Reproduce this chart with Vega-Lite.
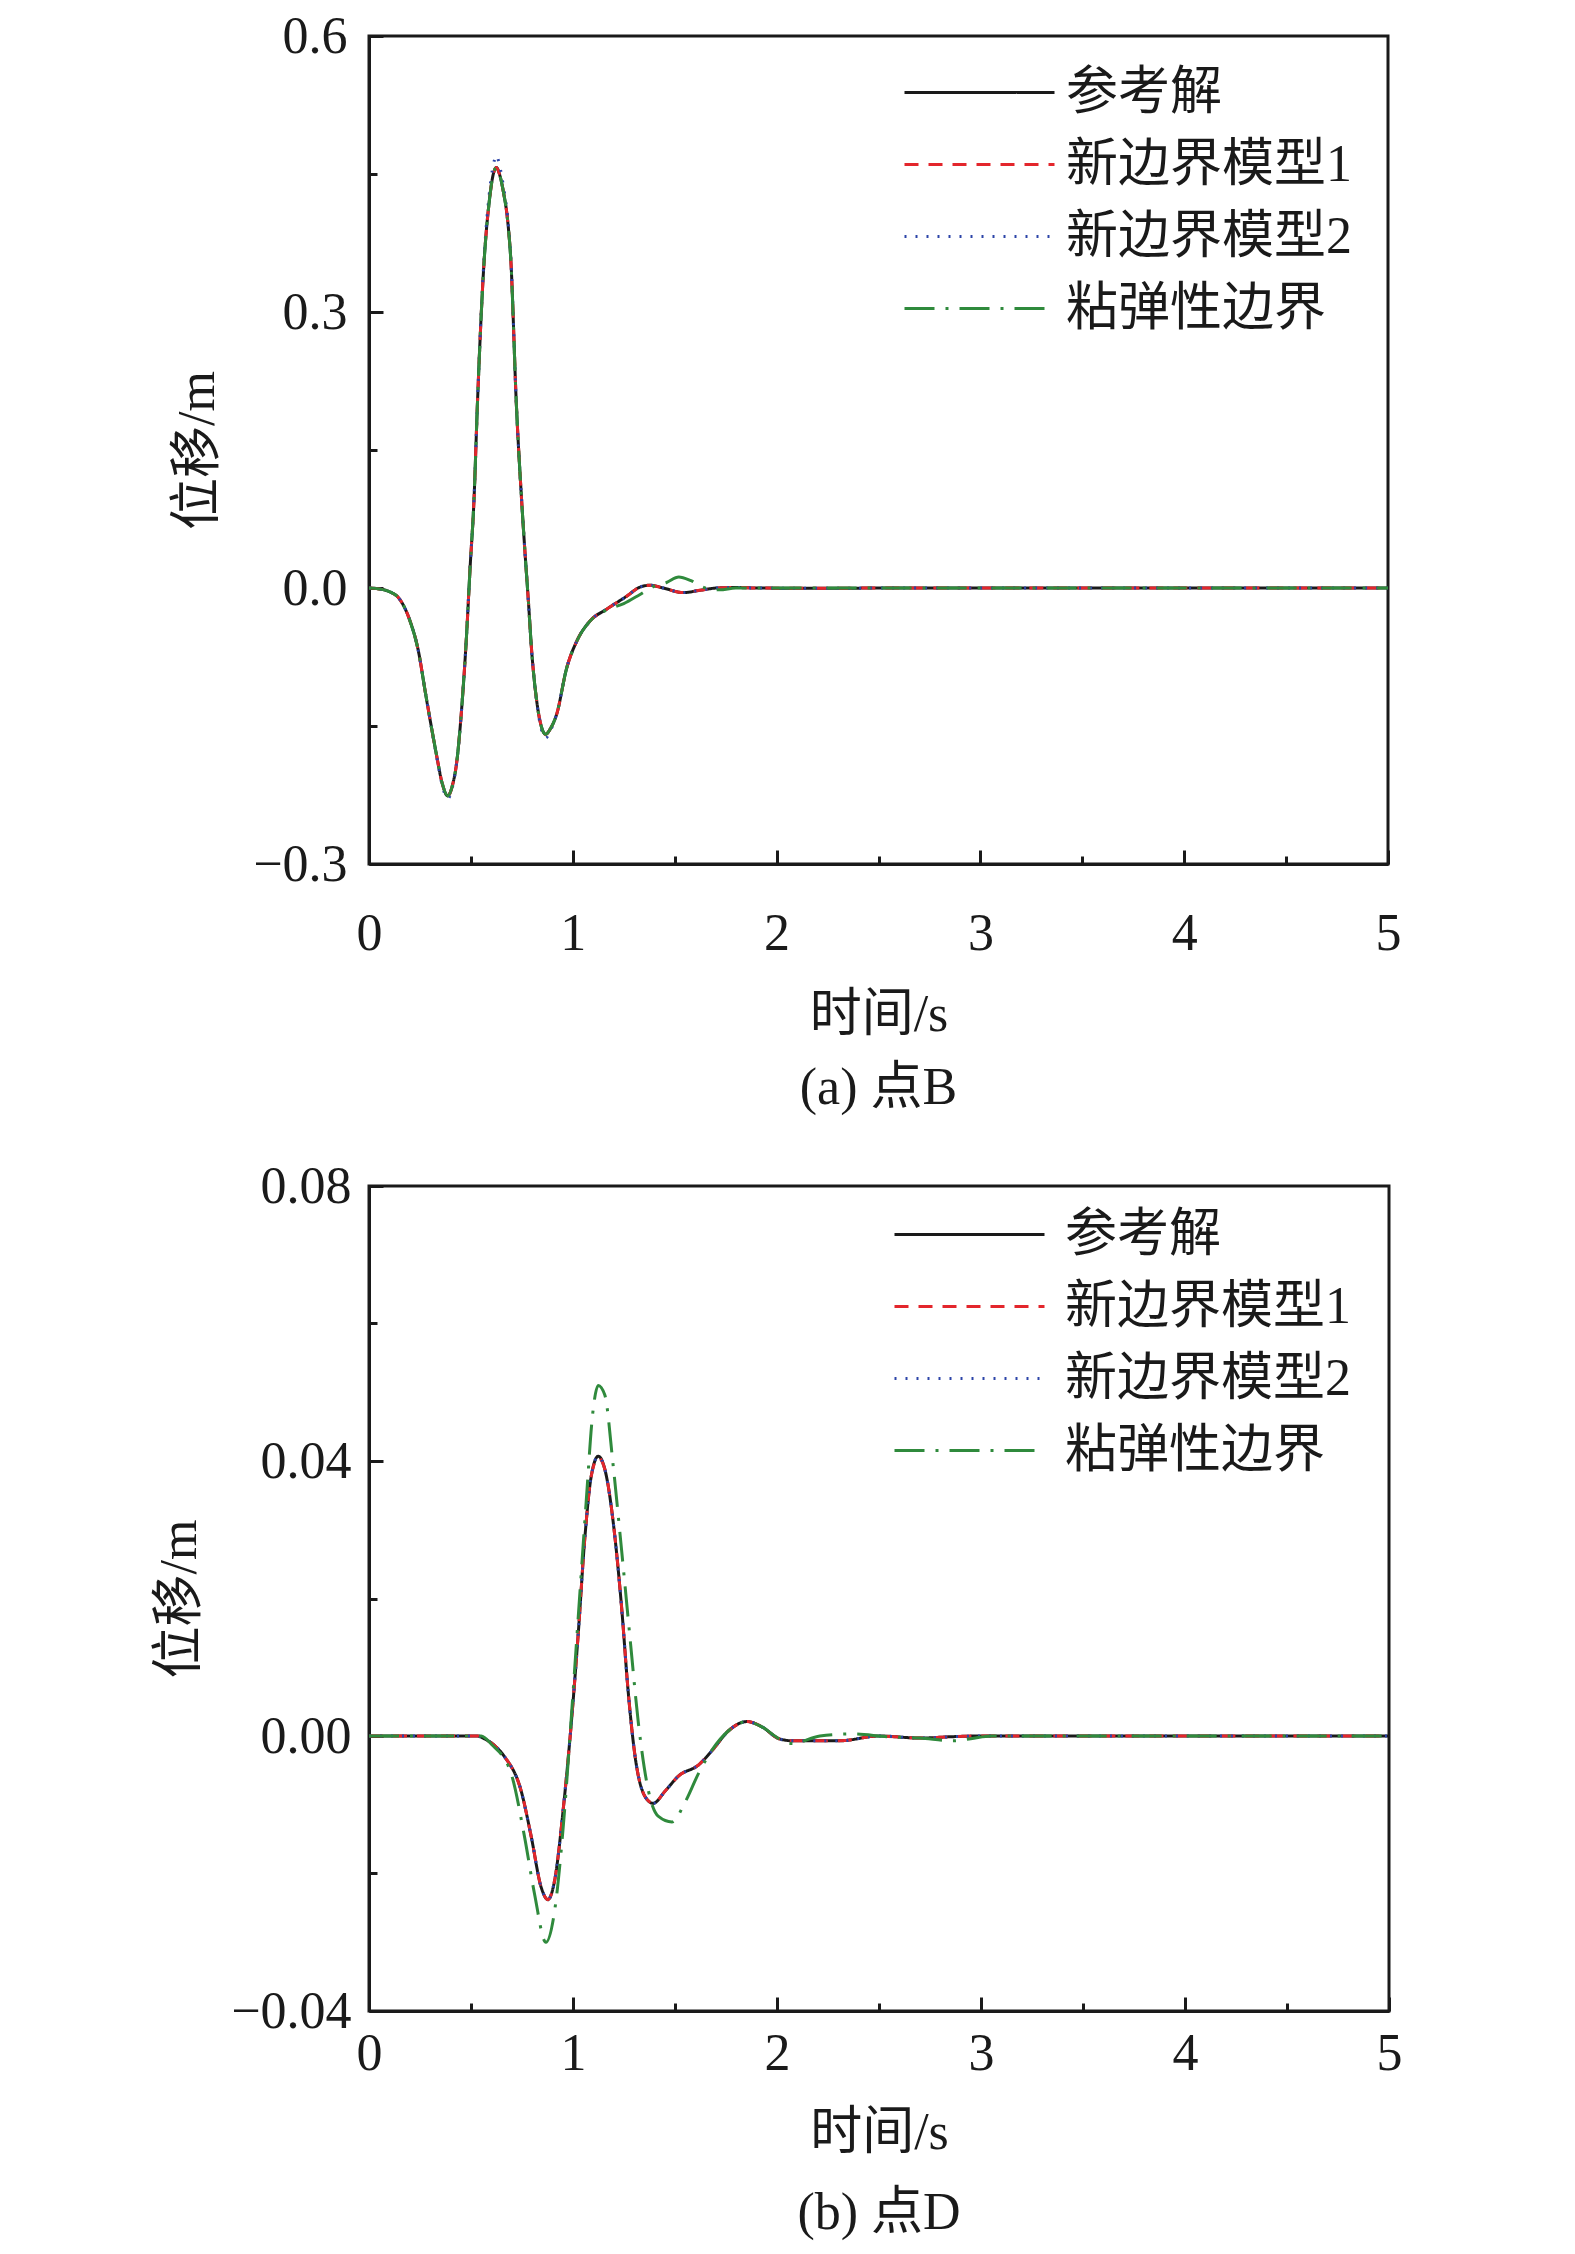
{
  "$schema": "https://vega.github.io/schema/vega-lite/v6.json",
  "background": "white",
  "padding": {"left": 152, "top": 8, "right": 10, "bottom": 5},
  "spacing": 42,
  "config": {
    "font": "Liberation Serif, Noto Sans CJK SC",
    "view": {"stroke": "#1a1a1a", "strokeWidth": 3},
    "axis": {
      "grid": false,
      "domainColor": "#1a1a1a",
      "domainWidth": 3,
      "tickColor": "#1a1a1a",
      "tickWidth": 3,
      "labelFont": "Liberation Serif, Noto Sans CJK SC",
      "labelFontSize": 52,
      "labelColor": "#1a1a1a",
      "titleFont": "Liberation Serif, Noto Sans CJK SC",
      "titleFontSize": 52,
      "titleFontWeight": "normal",
      "titleColor": "#1a1a1a",
      "labelFlush": false,
      "labelOverlap": false
    },
    "title": {"font": "Liberation Serif, Noto Sans CJK SC", "fontSize": 52, "fontWeight": "normal", "color": "#1a1a1a"},
    "legend": {"labelFont": "Liberation Serif, Noto Sans CJK SC", "labelFontSize": 52, "labelColor": "#1a1a1a", "labelLimit": 0}
  },
  "datasets": {
    "a": [
      {"s":"参考解","t":0,"v":0},{"s":"参考解","t":0.05,"v":-0.001},{"s":"参考解","t":0.1,"v":-0.004},{"s":"参考解","t":0.15,"v":-0.012},{"s":"参考解","t":0.2,"v":-0.035},{"s":"参考解","t":0.24,"v":-0.066},{"s":"参考解","t":0.28,"v":-0.118},{"s":"参考解","t":0.33,"v":-0.18},{"s":"参考解","t":0.36,"v":-0.213},{"s":"参考解","t":0.386,"v":-0.226},{"s":"参考解","t":0.41,"v":-0.214},{"s":"参考解","t":0.43,"v":-0.19},{"s":"参考解","t":0.455,"v":-0.13},{"s":"参考解","t":0.479,"v":-0.05},{"s":"参考解","t":0.496,"v":0.022},{"s":"参考解","t":0.515,"v":0.095},{"s":"参考解","t":0.532,"v":0.2},{"s":"参考解","t":0.565,"v":0.356},{"s":"参考解","t":0.59,"v":0.42},{"s":"参考解","t":0.61,"v":0.45},{"s":"参考解","t":0.625,"v":0.457},{"s":"参考解","t":0.64,"v":0.45},{"s":"参考解","t":0.66,"v":0.43},{"s":"参考解","t":0.68,"v":0.4},{"s":"参考解","t":0.696,"v":0.356},{"s":"参考解","t":0.723,"v":0.2},{"s":"参考解","t":0.749,"v":0.095},{"s":"参考解","t":0.765,"v":0.04},{"s":"参考解","t":0.782,"v":-0.014},{"s":"参考解","t":0.798,"v":-0.068},{"s":"参考解","t":0.823,"v":-0.123},{"s":"参考解","t":0.845,"v":-0.15},{"s":"参考解","t":0.867,"v":-0.159},{"s":"参考解","t":0.89,"v":-0.153},{"s":"参考解","t":0.921,"v":-0.137},{"s":"参考解","t":0.97,"v":-0.087},{"s":"参考解","t":1.019,"v":-0.058},{"s":"参考解","t":1.084,"v":-0.036},{"s":"参考解","t":1.166,"v":-0.023},{"s":"参考解","t":1.264,"v":-0.009},{"s":"参考解","t":1.33,"v":0.001},{"s":"参考解","t":1.379,"v":0.003},{"s":"参考解","t":1.444,"v":0},{"s":"参考解","t":1.542,"v":-0.005},{"s":"参考解","t":1.624,"v":-0.0025},{"s":"参考解","t":1.706,"v":0},{"s":"参考解","t":1.8,"v":0.0005},{"s":"参考解","t":1.9,"v":0},{"s":"参考解","t":2.2,"v":-0.0003},{"s":"参考解","t":2.6,"v":0},{"s":"参考解","t":3,"v":0},{"s":"参考解","t":4,"v":0},{"s":"参考解","t":5,"v":0},

      {"s":"新边界模型1","t":0,"v":0},{"s":"新边界模型1","t":0.05,"v":-0.001},{"s":"新边界模型1","t":0.1,"v":-0.004},{"s":"新边界模型1","t":0.15,"v":-0.012},{"s":"新边界模型1","t":0.2,"v":-0.035},{"s":"新边界模型1","t":0.24,"v":-0.066},{"s":"新边界模型1","t":0.28,"v":-0.118},{"s":"新边界模型1","t":0.33,"v":-0.18},{"s":"新边界模型1","t":0.36,"v":-0.213},{"s":"新边界模型1","t":0.386,"v":-0.226},{"s":"新边界模型1","t":0.41,"v":-0.214},{"s":"新边界模型1","t":0.43,"v":-0.19},{"s":"新边界模型1","t":0.455,"v":-0.13},{"s":"新边界模型1","t":0.479,"v":-0.05},{"s":"新边界模型1","t":0.496,"v":0.022},{"s":"新边界模型1","t":0.515,"v":0.095},{"s":"新边界模型1","t":0.532,"v":0.2},{"s":"新边界模型1","t":0.565,"v":0.356},{"s":"新边界模型1","t":0.59,"v":0.42},{"s":"新边界模型1","t":0.61,"v":0.45},{"s":"新边界模型1","t":0.625,"v":0.457},{"s":"新边界模型1","t":0.64,"v":0.45},{"s":"新边界模型1","t":0.66,"v":0.43},{"s":"新边界模型1","t":0.68,"v":0.4},{"s":"新边界模型1","t":0.696,"v":0.356},{"s":"新边界模型1","t":0.723,"v":0.2},{"s":"新边界模型1","t":0.749,"v":0.095},{"s":"新边界模型1","t":0.765,"v":0.04},{"s":"新边界模型1","t":0.782,"v":-0.014},{"s":"新边界模型1","t":0.798,"v":-0.068},{"s":"新边界模型1","t":0.823,"v":-0.123},{"s":"新边界模型1","t":0.845,"v":-0.15},{"s":"新边界模型1","t":0.867,"v":-0.159},{"s":"新边界模型1","t":0.89,"v":-0.153},{"s":"新边界模型1","t":0.921,"v":-0.137},{"s":"新边界模型1","t":0.97,"v":-0.087},{"s":"新边界模型1","t":1.019,"v":-0.058},{"s":"新边界模型1","t":1.084,"v":-0.036},{"s":"新边界模型1","t":1.166,"v":-0.023},{"s":"新边界模型1","t":1.264,"v":-0.009},{"s":"新边界模型1","t":1.33,"v":0.001},{"s":"新边界模型1","t":1.379,"v":0.003},{"s":"新边界模型1","t":1.444,"v":0},{"s":"新边界模型1","t":1.542,"v":-0.005},{"s":"新边界模型1","t":1.624,"v":-0.0025},{"s":"新边界模型1","t":1.706,"v":0},{"s":"新边界模型1","t":1.8,"v":0.0005},{"s":"新边界模型1","t":1.9,"v":0},{"s":"新边界模型1","t":2.2,"v":-0.0003},{"s":"新边界模型1","t":2.6,"v":0},{"s":"新边界模型1","t":3,"v":0},{"s":"新边界模型1","t":4,"v":0},{"s":"新边界模型1","t":5,"v":0},

      {"s":"新边界模型2","t":0,"v":0},{"s":"新边界模型2","t":0.05,"v":-0.001},{"s":"新边界模型2","t":0.1,"v":-0.004},{"s":"新边界模型2","t":0.15,"v":-0.012},{"s":"新边界模型2","t":0.2,"v":-0.035},{"s":"新边界模型2","t":0.24,"v":-0.066},{"s":"新边界模型2","t":0.28,"v":-0.118},{"s":"新边界模型2","t":0.33,"v":-0.181},{"s":"新边界模型2","t":0.36,"v":-0.215},{"s":"新边界模型2","t":0.386,"v":-0.229},{"s":"新边界模型2","t":0.41,"v":-0.216},{"s":"新边界模型2","t":0.43,"v":-0.19},{"s":"新边界模型2","t":0.455,"v":-0.13},{"s":"新边界模型2","t":0.479,"v":-0.05},{"s":"新边界模型2","t":0.496,"v":0.022},{"s":"新边界模型2","t":0.515,"v":0.095},{"s":"新边界模型2","t":0.532,"v":0.2},{"s":"新边界模型2","t":0.565,"v":0.36},{"s":"新边界模型2","t":0.59,"v":0.428},{"s":"新边界模型2","t":0.61,"v":0.46},{"s":"新边界模型2","t":0.625,"v":0.47},{"s":"新边界模型2","t":0.64,"v":0.46},{"s":"新边界模型2","t":0.66,"v":0.436},{"s":"新边界模型2","t":0.68,"v":0.404},{"s":"新边界模型2","t":0.696,"v":0.358},{"s":"新边界模型2","t":0.723,"v":0.2},{"s":"新边界模型2","t":0.749,"v":0.095},{"s":"新边界模型2","t":0.765,"v":0.04},{"s":"新边界模型2","t":0.782,"v":-0.014},{"s":"新边界模型2","t":0.798,"v":-0.068},{"s":"新边界模型2","t":0.823,"v":-0.124},{"s":"新边界模型2","t":0.845,"v":-0.153},{"s":"新边界模型2","t":0.867,"v":-0.163},{"s":"新边界模型2","t":0.89,"v":-0.155},{"s":"新边界模型2","t":0.921,"v":-0.137},{"s":"新边界模型2","t":0.97,"v":-0.087},{"s":"新边界模型2","t":1.019,"v":-0.058},{"s":"新边界模型2","t":1.084,"v":-0.036},{"s":"新边界模型2","t":1.166,"v":-0.023},{"s":"新边界模型2","t":1.264,"v":-0.009},{"s":"新边界模型2","t":1.33,"v":0.001},{"s":"新边界模型2","t":1.379,"v":0.003},{"s":"新边界模型2","t":1.444,"v":0},{"s":"新边界模型2","t":1.542,"v":-0.005},{"s":"新边界模型2","t":1.624,"v":-0.0025},{"s":"新边界模型2","t":1.706,"v":0},{"s":"新边界模型2","t":1.8,"v":0.0005},{"s":"新边界模型2","t":1.9,"v":0},{"s":"新边界模型2","t":2.2,"v":-0.0003},{"s":"新边界模型2","t":2.6,"v":0},{"s":"新边界模型2","t":3,"v":0},{"s":"新边界模型2","t":4,"v":0},{"s":"新边界模型2","t":5,"v":0},

      {"s":"粘弹性边界","t":0,"v":0},{"s":"粘弹性边界","t":0.05,"v":-0.001},{"s":"粘弹性边界","t":0.1,"v":-0.004},{"s":"粘弹性边界","t":0.15,"v":-0.012},{"s":"粘弹性边界","t":0.2,"v":-0.035},{"s":"粘弹性边界","t":0.24,"v":-0.066},{"s":"粘弹性边界","t":0.28,"v":-0.118},{"s":"粘弹性边界","t":0.33,"v":-0.18},{"s":"粘弹性边界","t":0.36,"v":-0.213},{"s":"粘弹性边界","t":0.386,"v":-0.226},{"s":"粘弹性边界","t":0.41,"v":-0.214},{"s":"粘弹性边界","t":0.43,"v":-0.19},{"s":"粘弹性边界","t":0.455,"v":-0.13},{"s":"粘弹性边界","t":0.479,"v":-0.05},{"s":"粘弹性边界","t":0.496,"v":0.022},{"s":"粘弹性边界","t":0.515,"v":0.095},{"s":"粘弹性边界","t":0.532,"v":0.2},{"s":"粘弹性边界","t":0.565,"v":0.356},{"s":"粘弹性边界","t":0.59,"v":0.42},{"s":"粘弹性边界","t":0.61,"v":0.45},{"s":"粘弹性边界","t":0.625,"v":0.457},{"s":"粘弹性边界","t":0.64,"v":0.45},{"s":"粘弹性边界","t":0.66,"v":0.43},{"s":"粘弹性边界","t":0.68,"v":0.4},{"s":"粘弹性边界","t":0.696,"v":0.356},{"s":"粘弹性边界","t":0.723,"v":0.2},{"s":"粘弹性边界","t":0.749,"v":0.095},{"s":"粘弹性边界","t":0.765,"v":0.04},{"s":"粘弹性边界","t":0.782,"v":-0.014},{"s":"粘弹性边界","t":0.798,"v":-0.068},{"s":"粘弹性边界","t":0.823,"v":-0.123},{"s":"粘弹性边界","t":0.845,"v":-0.15},{"s":"粘弹性边界","t":0.867,"v":-0.159},{"s":"粘弹性边界","t":0.89,"v":-0.153},{"s":"粘弹性边界","t":0.921,"v":-0.137},{"s":"粘弹性边界","t":0.97,"v":-0.087},{"s":"粘弹性边界","t":1.019,"v":-0.058},{"s":"粘弹性边界","t":1.084,"v":-0.036},{"s":"粘弹性边界","t":1.166,"v":-0.024},{"s":"粘弹性边界","t":1.25,"v":-0.017},{"s":"粘弹性边界","t":1.33,"v":-0.007},{"s":"粘弹性边界","t":1.4,"v":0.002},{"s":"粘弹性边界","t":1.46,"v":0.006},{"s":"粘弹性边界","t":1.52,"v":0.012},{"s":"粘弹性边界","t":1.58,"v":0.008},{"s":"粘弹性边界","t":1.65,"v":0},{"s":"粘弹性边界","t":1.72,"v":-0.002},{"s":"粘弹性边界","t":1.8,"v":0},{"s":"粘弹性边界","t":2.2,"v":0},{"s":"粘弹性边界","t":3,"v":0},{"s":"粘弹性边界","t":4,"v":0},{"s":"粘弹性边界","t":5,"v":0}
    ],
    "b": [
      {"s":"参考解","t":0,"v":0},{"s":"参考解","t":0.3,"v":0},{"s":"参考解","t":0.53,"v":0},{"s":"参考解","t":0.565,"v":-0.0004},{"s":"参考解","t":0.62,"v":-0.0015},{"s":"参考解","t":0.664,"v":-0.003},{"s":"参考解","t":0.746,"v":-0.008},{"s":"参考解","t":0.795,"v":-0.0146},{"s":"参考解","t":0.844,"v":-0.022},{"s":"参考解","t":0.877,"v":-0.0238},{"s":"参考解","t":0.91,"v":-0.021},{"s":"参考解","t":0.953,"v":-0.0104},{"s":"参考解","t":0.992,"v":0.002},{"s":"参考解","t":1.025,"v":0.0146},{"s":"参考解","t":1.058,"v":0.0288},{"s":"参考解","t":1.09,"v":0.0379},{"s":"参考解","t":1.124,"v":0.0407},{"s":"参考解","t":1.156,"v":0.0388},{"s":"参考解","t":1.206,"v":0.0288},{"s":"参考解","t":1.238,"v":0.0188},{"s":"参考解","t":1.271,"v":0.0063},{"s":"参考解","t":1.304,"v":-0.0029},{"s":"参考解","t":1.353,"v":-0.0088},{"s":"参考解","t":1.393,"v":-0.0098},{"s":"参考解","t":1.452,"v":-0.008},{"s":"参考解","t":1.518,"v":-0.0058},{"s":"参考解","t":1.616,"v":-0.0042},{"s":"参考解","t":1.682,"v":-0.0021},{"s":"参考解","t":1.764,"v":0.0008},{"s":"参考解","t":1.853,"v":0.0021},{"s":"参考解","t":1.928,"v":0.0013},{"s":"参考解","t":2.01,"v":-0.0004},{"s":"参考解","t":2.076,"v":-0.0007},{"s":"参考解","t":2.306,"v":-0.0007},{"s":"参考解","t":2.5,"v":0},{"s":"参考解","t":2.7,"v":-0.0003},{"s":"参考解","t":2.86,"v":-0.0001},{"s":"参考解","t":3,"v":0},{"s":"参考解","t":4,"v":0},{"s":"参考解","t":5,"v":0},

      {"s":"新边界模型1","t":0,"v":0},{"s":"新边界模型1","t":0.3,"v":0},{"s":"新边界模型1","t":0.53,"v":0},{"s":"新边界模型1","t":0.565,"v":-0.0004},{"s":"新边界模型1","t":0.62,"v":-0.0015},{"s":"新边界模型1","t":0.664,"v":-0.003},{"s":"新边界模型1","t":0.746,"v":-0.008},{"s":"新边界模型1","t":0.795,"v":-0.0146},{"s":"新边界模型1","t":0.844,"v":-0.022},{"s":"新边界模型1","t":0.877,"v":-0.0238},{"s":"新边界模型1","t":0.91,"v":-0.021},{"s":"新边界模型1","t":0.953,"v":-0.0104},{"s":"新边界模型1","t":0.992,"v":0.002},{"s":"新边界模型1","t":1.025,"v":0.0146},{"s":"新边界模型1","t":1.058,"v":0.0288},{"s":"新边界模型1","t":1.09,"v":0.0379},{"s":"新边界模型1","t":1.124,"v":0.0405},{"s":"新边界模型1","t":1.156,"v":0.0388},{"s":"新边界模型1","t":1.206,"v":0.0288},{"s":"新边界模型1","t":1.238,"v":0.0188},{"s":"新边界模型1","t":1.271,"v":0.0063},{"s":"新边界模型1","t":1.304,"v":-0.0029},{"s":"新边界模型1","t":1.353,"v":-0.0088},{"s":"新边界模型1","t":1.393,"v":-0.0098},{"s":"新边界模型1","t":1.452,"v":-0.008},{"s":"新边界模型1","t":1.518,"v":-0.0058},{"s":"新边界模型1","t":1.616,"v":-0.0042},{"s":"新边界模型1","t":1.682,"v":-0.0021},{"s":"新边界模型1","t":1.764,"v":0.0008},{"s":"新边界模型1","t":1.853,"v":0.0021},{"s":"新边界模型1","t":1.928,"v":0.0013},{"s":"新边界模型1","t":2.01,"v":-0.0004},{"s":"新边界模型1","t":2.076,"v":-0.0007},{"s":"新边界模型1","t":2.306,"v":-0.0007},{"s":"新边界模型1","t":2.5,"v":0},{"s":"新边界模型1","t":2.7,"v":-0.0003},{"s":"新边界模型1","t":2.86,"v":-0.0001},{"s":"新边界模型1","t":3,"v":0},{"s":"新边界模型1","t":4,"v":0},{"s":"新边界模型1","t":5,"v":0},

      {"s":"新边界模型2","t":0,"v":0},{"s":"新边界模型2","t":0.3,"v":0},{"s":"新边界模型2","t":0.53,"v":0},{"s":"新边界模型2","t":0.565,"v":-0.0004},{"s":"新边界模型2","t":0.62,"v":-0.0015},{"s":"新边界模型2","t":0.664,"v":-0.003},{"s":"新边界模型2","t":0.746,"v":-0.008},{"s":"新边界模型2","t":0.795,"v":-0.0146},{"s":"新边界模型2","t":0.844,"v":-0.022},{"s":"新边界模型2","t":0.877,"v":-0.0238},{"s":"新边界模型2","t":0.91,"v":-0.021},{"s":"新边界模型2","t":0.953,"v":-0.0104},{"s":"新边界模型2","t":0.992,"v":0.002},{"s":"新边界模型2","t":1.025,"v":0.0146},{"s":"新边界模型2","t":1.058,"v":0.0288},{"s":"新边界模型2","t":1.09,"v":0.0379},{"s":"新边界模型2","t":1.124,"v":0.0407},{"s":"新边界模型2","t":1.156,"v":0.0388},{"s":"新边界模型2","t":1.206,"v":0.0288},{"s":"新边界模型2","t":1.238,"v":0.0188},{"s":"新边界模型2","t":1.271,"v":0.0063},{"s":"新边界模型2","t":1.304,"v":-0.0029},{"s":"新边界模型2","t":1.353,"v":-0.0088},{"s":"新边界模型2","t":1.393,"v":-0.0098},{"s":"新边界模型2","t":1.452,"v":-0.008},{"s":"新边界模型2","t":1.518,"v":-0.0058},{"s":"新边界模型2","t":1.616,"v":-0.0042},{"s":"新边界模型2","t":1.682,"v":-0.0021},{"s":"新边界模型2","t":1.764,"v":0.0008},{"s":"新边界模型2","t":1.853,"v":0.0021},{"s":"新边界模型2","t":1.928,"v":0.0013},{"s":"新边界模型2","t":2.01,"v":-0.0004},{"s":"新边界模型2","t":2.076,"v":-0.0007},{"s":"新边界模型2","t":2.306,"v":-0.0007},{"s":"新边界模型2","t":2.5,"v":0},{"s":"新边界模型2","t":2.7,"v":-0.0003},{"s":"新边界模型2","t":2.86,"v":-0.0001},{"s":"新边界模型2","t":3,"v":0},{"s":"新边界模型2","t":4,"v":0},{"s":"新边界模型2","t":5,"v":0},

      {"s":"粘弹性边界","t":0,"v":0},{"s":"粘弹性边界","t":0.3,"v":0},{"s":"粘弹性边界","t":0.55,"v":0},{"s":"粘弹性边界","t":0.6,"v":-0.0012},{"s":"粘弹性边界","t":0.696,"v":-0.0054},{"s":"粘弹性边界","t":0.762,"v":-0.0146},{"s":"粘弹性边界","t":0.811,"v":-0.0229},{"s":"粘弹性边界","t":0.867,"v":-0.03},{"s":"粘弹性边界","t":0.91,"v":-0.0254},{"s":"粘弹性边界","t":0.953,"v":-0.0129},{"s":"粘弹性边界","t":0.99,"v":0.002},{"s":"粘弹性边界","t":1.025,"v":0.017},{"s":"粘弹性边界","t":1.064,"v":0.0338},{"s":"粘弹性边界","t":1.097,"v":0.047},{"s":"粘弹性边界","t":1.124,"v":0.051},{"s":"粘弹性边界","t":1.156,"v":0.0496},{"s":"粘弹性边界","t":1.196,"v":0.0396},{"s":"粘弹性边界","t":1.238,"v":0.0271},{"s":"粘弹性边界","t":1.281,"v":0.0138},{"s":"粘弹性边界","t":1.32,"v":0.002},{"s":"粘弹性边界","t":1.37,"v":-0.008},{"s":"粘弹性边界","t":1.419,"v":-0.0117},{"s":"粘弹性边界","t":1.485,"v":-0.0125},{"s":"粘弹性边界","t":1.55,"v":-0.0096},{"s":"粘弹性边界","t":1.616,"v":-0.0054},{"s":"粘弹性边界","t":1.68,"v":-0.0021},{"s":"粘弹性边界","t":1.764,"v":0.0008},{"s":"粘弹性边界","t":1.853,"v":0.0021},{"s":"粘弹性边界","t":1.928,"v":0.0013},{"s":"粘弹性边界","t":2.01,"v":-0.0004},{"s":"粘弹性边界","t":2.076,"v":-0.0011},{"s":"粘弹性边界","t":2.21,"v":0},{"s":"粘弹性边界","t":2.37,"v":0.0003},{"s":"粘弹性边界","t":2.54,"v":-0.0001},{"s":"粘弹性边界","t":2.7,"v":-0.0003},{"s":"粘弹性边界","t":2.86,"v":-0.0007},{"s":"粘弹性边界","t":2.95,"v":-0.0004},{"s":"粘弹性边界","t":3.05,"v":0},{"s":"粘弹性边界","t":4,"v":0},{"s":"粘弹性边界","t":5,"v":0}
    ]
  },
  "vconcat": [
    {
      "width": 1019,
      "height": 828,
      "data": {"name": "a"},
      "title": {"text": "(a) 点B", "orient": "bottom", "offset": 23},
      "mark": {"type": "line", "strokeWidth": 3, "interpolate": "monotone", "clip": true},
      "encoding": {
        "x": {
          "field": "t", "type": "quantitative",
          "scale": {"domain": [0, 5], "nice": false, "zero": false},
          "axis": {
            "title": "时间/s",
            "values": [0, 0.5, 1, 1.5, 2, 2.5, 3, 3.5, 4, 4.5, 5],
            "format": ".0f",
            "labelExpr": "datum.value % 1 == 0 ? datum.label : ''",
            "tickSize": {"condition": {"test": "datum.value % 1 == 0", "value": -14}, "value": -8},
            "labelPadding": 58,
            "titlePadding": 24
          }
        },
        "y": {
          "field": "v", "type": "quantitative",
          "scale": {"domain": [-0.3, 0.6], "nice": false, "zero": false},
          "axis": {
            "title": "位移/m",
            "values": [-0.3, -0.15, 0, 0.15, 0.3, 0.45, 0.6],
            "format": ".1f",
            "labelExpr": "abs(datum.value/0.3 - round(datum.value/0.3)) < 0.001 ? datum.label : ''",
            "tickSize": {"condition": {"test": "abs(datum.value/0.3 - round(datum.value/0.3)) < 0.001", "value": -14}, "value": -8},
            "labelPadding": 36,
            "titlePadding": 28
          }
        },
        "color": {
          "field": "s", "type": "nominal",
          "scale": {"domain": ["参考解", "新边界模型1", "新边界模型2", "粘弹性边界"], "range": ["#1a1a1a", "#e3262c", "#2c44a8", "#2f8a3c"]},
          "legend": {"title": null, "orient": "none", "legendX": 584, "legendY": 30, "padding": 0, "symbolType": "M-3,0H3", "symbolSize": 2500, "symbolStrokeWidth": 3, "labelOffset": 60, "rowPadding": 19}
        },
        "strokeDash": {
          "field": "s", "type": "nominal",
          "scale": {"domain": ["参考解", "新边界模型1", "新边界模型2", "粘弹性边界"], "range": [[1, 0], [14, 10], [2, 9], [30, 11, 3, 11]]},
          "legend": {"title": null, "orient": "none", "legendX": 584, "legendY": 30, "padding": 0, "symbolType": "M-3,0H3", "symbolSize": 2500, "symbolStrokeWidth": 3, "labelOffset": 60, "rowPadding": 19}
        }
      }
    },
    {
      "width": 1020,
      "height": 825,
      "data": {"name": "b"},
      "title": {"text": "(b) 点D", "orient": "bottom", "offset": 30},
      "mark": {"type": "line", "strokeWidth": 3, "interpolate": "monotone", "clip": true},
      "encoding": {
        "x": {
          "field": "t", "type": "quantitative",
          "scale": {"domain": [0, 5], "nice": false, "zero": false},
          "axis": {
            "title": "时间/s",
            "values": [0, 0.5, 1, 1.5, 2, 2.5, 3, 3.5, 4, 4.5, 5],
            "format": ".0f",
            "labelExpr": "datum.value % 1 == 0 ? datum.label : ''",
            "tickSize": {"condition": {"test": "datum.value % 1 == 0", "value": -14}, "value": -8},
            "labelPadding": 31,
            "titlePadding": 22
          }
        },
        "y": {
          "field": "v", "type": "quantitative",
          "scale": {"domain": [-0.04, 0.08], "nice": false, "zero": false},
          "axis": {
            "title": "位移/m",
            "values": [-0.04, -0.02, 0, 0.02, 0.04, 0.06, 0.08],
            "format": ".2f",
            "labelExpr": "abs(datum.value/0.04 - round(datum.value/0.04)) < 0.001 ? datum.label : ''",
            "tickSize": {"condition": {"test": "abs(datum.value/0.04 - round(datum.value/0.04)) < 0.001", "value": -14}, "value": -8},
            "labelPadding": 32,
            "titlePadding": 24
          }
        },
        "color": {
          "field": "s", "type": "nominal",
          "scale": {"domain": ["参考解", "新边界模型1", "新边界模型2", "粘弹性边界"], "range": ["#1a1a1a", "#e3262c", "#2c44a8", "#2f8a3c"]},
          "legend": {"title": null, "orient": "none", "legendX": 574, "legendY": 22, "padding": 0, "symbolType": "M-3,0H3", "symbolSize": 2500, "symbolStrokeWidth": 3, "labelOffset": 69, "rowPadding": 19}
        },
        "strokeDash": {
          "field": "s", "type": "nominal",
          "scale": {"domain": ["参考解", "新边界模型1", "新边界模型2", "粘弹性边界"], "range": [[1, 0], [14, 10], [2, 9], [30, 11, 3, 11]]},
          "legend": {"title": null, "orient": "none", "legendX": 574, "legendY": 22, "padding": 0, "symbolType": "M-3,0H3", "symbolSize": 2500, "symbolStrokeWidth": 3, "labelOffset": 69, "rowPadding": 19}
        }
      }
    }
  ],
  "resolve": {"scale": {"color": "independent", "strokeDash": "independent", "x": "independent", "y": "independent"}, "legend": {"color": "independent", "strokeDash": "independent"}}
}
